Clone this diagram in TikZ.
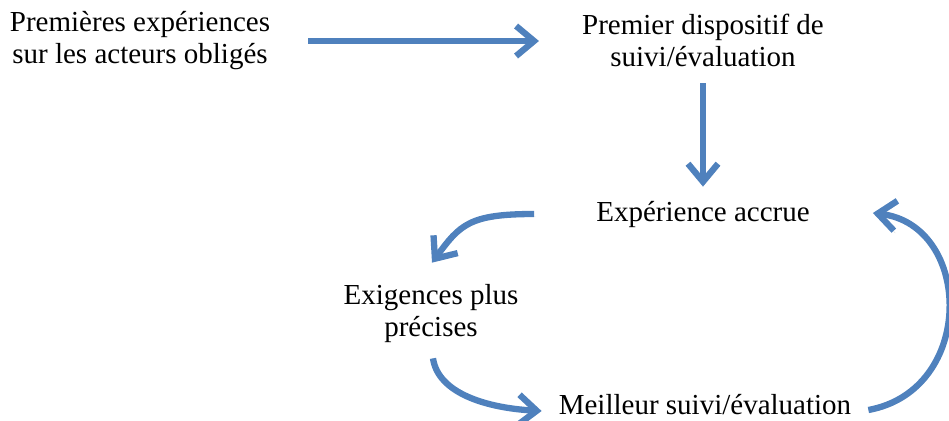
\documentclass[tikz,border=0pt]{standalone}
\usepackage{fontspec}
\setmainfont{Liberation Serif}
\usetikzlibrary{arrows.meta}
\definecolor{flowblue}{HTML}{4F81BD}

\begin{document}
\begin{tikzpicture}[x=1pt, y=-1pt,
  lbl/.style={inner sep=0pt, align=center, font=\fontsize{29}{32}\selectfont},
  flow/.style={draw=flowblue, line width=6.3pt,
    -{Straight Barb[length=18pt, width=30pt, quick]},
    preaction={draw=black, opacity=0.12, transform canvas={shift={(1.5pt,-2.5pt)}}}}]
\useasboundingbox (0,0) rectangle (949,420);

\node[lbl] (obliges) at (140,40.5) {Premières expériences\\sur les acteurs obligés};
\node[lbl] (dispositif) at (703,40.5) {Premier dispositif de\\suivi/évaluation};
\node[lbl] (accrue) at (703,215) {Expérience accrue};
\node[lbl] (exigences) at (431,314) {Exigences plus\\précises};
\node[lbl] (meilleur) at (705,405) {Meilleur suivi/évaluation};

\draw[flow] ([shift={(38,0.5)}]obliges.east) -- ([shift={(-43,0.5)}]dispositif.west);
\draw[flow] ([shift={(0,16)}]dispositif.south) -- ([shift={(0,-15)}]accrue.north);
\draw[flow] ([shift={(-62,-1)}]accrue.west) .. controls +(-65,0) and +(28,-38) .. ([shift={(1,-22)}]exigences.north);
\draw[flow] ([shift={(2,15)}]exigences.south) .. controls +(5,35) and +(-55,-3) .. ([shift={(-17,6)}]meilleur.west);
\draw[flow] ([shift={(17,5)}]meilleur.east) .. controls +(108,-20) and +(100,12) .. ([shift={(63,-2)}]accrue.east);
\end{tikzpicture}
\end{document}
